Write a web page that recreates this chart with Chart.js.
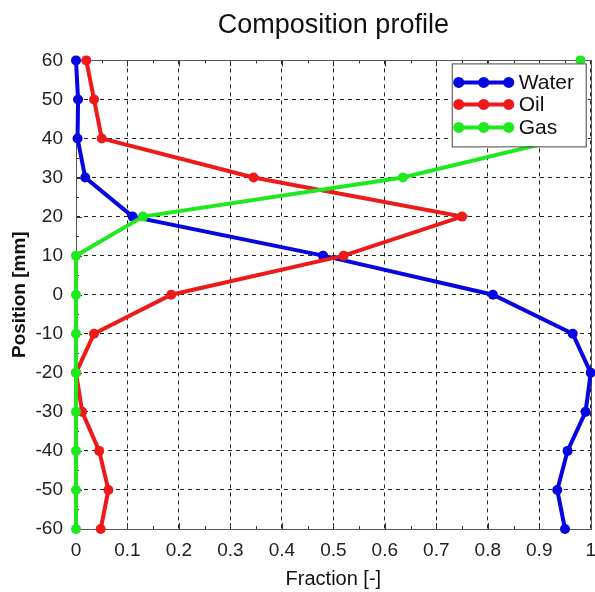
<!DOCTYPE html>
<html>
<head>
<meta charset="utf-8">
<title>Composition profile</title>
<script src="https://cdn.jsdelivr.net/npm/chart.js@4"></script>
<style>
  html, body { margin: 0; padding: 0; background: #fff; overflow: hidden; }
  #wrap { width: 606px; height: 592px; }
</style>
</head>
<body>
<div id="wrap"><canvas id="chart" width="606" height="592"></canvas></div>
<script>
// position of each sample point, mm
const positions = [60, 50, 40, 30, 20, 10, 0, -10, -20, -30, -40, -50, -60];

// fractions, same order as positions
const water = [0.0, 0.004, 0.003, 0.018, 0.11, 0.48, 0.81, 0.965, 1.0, 0.99, 0.955, 0.935, 0.95];
const oil   = [0.02, 0.035, 0.05, 0.345, 0.75, 0.52, 0.185, 0.035, 0.0, 0.012, 0.045, 0.063, 0.048];
const gas   = [0.98, 0.96, 0.95, 0.635, 0.13, 0.0, 0.0, 0.0, 0.0, 0.0, 0.0, 0.0, 0.0];

const xTicks = [0, 0.1, 0.2, 0.3, 0.4, 0.5, 0.6, 0.7, 0.8, 0.9, 1];
const yTicks = [-60, -50, -40, -30, -20, -10, 0, 10, 20, 30, 40, 50, 60];

const FONT = "'Liberation Sans', Arial, sans-serif";

function toPoints(values) {
    return values.map((v, i) => ({ x: v, y: positions[i] }));
}

function series(label, values, color, order) {
    return {
        label: label,
        data: toPoints(values),
        showLine: true,
        borderColor: color,
        backgroundColor: color,
        borderWidth: 4,
        pointRadius: 5,
        pointHoverRadius: 5,
        pointBorderWidth: 0,
        clip: false,
        order: order
    };
}

// box round the plot plus little inward tick marks
const frame = {
    id: 'frame',
    beforeDatasetsDraw(chart) {
        const { ctx, chartArea: a, scales } = chart;
        ctx.save();
        ctx.strokeStyle = '#333';
        ctx.lineWidth = 1;
        for (let v = 0; v <= 1.0001; v += 0.05) {
            const px = Math.round(scales.x.getPixelForValue(v)) + 0.5;
            const major = Math.abs(v * 10 - Math.round(v * 10)) < 1e-6;
            const len = major ? 6 : 3;
            ctx.beginPath();
            ctx.moveTo(px, a.bottom); ctx.lineTo(px, a.bottom - len);
            ctx.moveTo(px, a.top); ctx.lineTo(px, a.top + len);
            ctx.stroke();
        }
        for (let v = -60; v <= 60; v += 5) {
            const py = Math.round(scales.y.getPixelForValue(v)) + 0.5;
            const len = v % 10 === 0 ? 6 : 3;
            ctx.beginPath();
            ctx.moveTo(a.left, py); ctx.lineTo(a.left + len, py);
            ctx.stroke();
        }
        ctx.strokeStyle = '#555';
        ctx.strokeRect(Math.round(a.left) + 0.5, Math.round(a.top) + 0.5,
            Math.round(a.right - a.left), Math.round(a.bottom - a.top));
        ctx.restore();
    }
};

// legend inside the plot, top right, matlab style
const insideLegend = {
    id: 'insideLegend',
    afterDraw(chart) {
        const { ctx, chartArea: a } = chart;
        const w = 134, h = 83;
        const x0 = a.right - w - 5, y0 = a.top + 3;
        ctx.save();
        ctx.fillStyle = '#fff';
        ctx.fillRect(x0, y0, w, h);
        ctx.strokeStyle = '#444';
        ctx.lineWidth = 1;
        ctx.strokeRect(x0 + 0.5, y0 + 0.5, w, h);
        ctx.font = '21px ' + FONT;
        ctx.textBaseline = 'middle';
        const rows = [19, 41, 64];
        chart.data.datasets.forEach((ds, i) => {
            const cy = y0 + rows[i];
            ctx.strokeStyle = ds.borderColor;
            ctx.fillStyle = ds.borderColor;
            ctx.lineWidth = 4;
            ctx.beginPath();
            ctx.moveTo(x0 + 6, cy); ctx.lineTo(x0 + 57, cy);
            ctx.stroke();
            [7, 32, 57].forEach(dx => {
                ctx.beginPath();
                ctx.arc(x0 + dx, cy, 5.5, 0, Math.PI * 2);
                ctx.fill();
            });
            ctx.fillStyle = '#111';
            ctx.fillText(ds.label, x0 + 67, cy + 1);
        });
        ctx.restore();
    }
};

new Chart(document.getElementById('chart'), {
    type: 'scatter',
    data: {
        datasets: [
            series('Water', water, '#0606e0', 3),
            series('Oil', oil, '#ee1a1a', 2),
            series('Gas', gas, '#1ee81e', 1)
        ]
    },
    options: {
        responsive: false,
        devicePixelRatio: 1,
        animation: false,
        layout: { padding: 0 },
        plugins: {
            legend: { display: false },
            tooltip: { enabled: false },
            title: {
                display: true,
                text: 'Composition profile',
                fullSize: false,
                color: '#111',
                font: { family: FONT, size: 27, weight: 'normal' },
                padding: { top: 9, bottom: 19 }
            }
        },
        scales: {
            x: {
                type: 'linear',
                min: 0,
                max: 1,
                afterBuildTicks: s => { s.ticks = xTicks.map(v => ({ value: v })); },
                afterFit: s => { s.height = 63; },
                ticks: {
                    color: '#222',
                    padding: 10,
                    font: { family: FONT, size: 19 },
                    callback: v => String(+v.toFixed(1))
                },
                grid: {
                    color: '#222',
                    drawTicks: false,
                    lineWidth: 1
                },
                border: { display: false, dash: [4, 4] },
                title: {
                    display: true,
                    text: 'Fraction [-]',
                    color: '#111',
                    font: { family: FONT, size: 20 },
                    padding: { top: 0, bottom: 1 }
                }
            },
            y: {
                type: 'linear',
                min: -60,
                max: 60,
                afterBuildTicks: s => { s.ticks = yTicks.map(v => ({ value: v })); },
                afterFit: s => { s.width = 76; },
                ticks: {
                    color: '#222',
                    padding: 13,
                    font: { family: FONT, size: 19 }
                },
                grid: {
                    color: '#222',
                    drawTicks: false,
                    lineWidth: 1
                },
                border: { display: false, dash: [4, 4] },
                title: {
                    display: true,
                    text: 'Position [mm]',
                    color: '#111',
                    font: { family: FONT, size: 19, weight: 'bold' },
                    padding: { top: 8, bottom: 0 }
                }
            }
        }
    },
    plugins: [frame, insideLegend]
});
</script>
</body>
</html>
